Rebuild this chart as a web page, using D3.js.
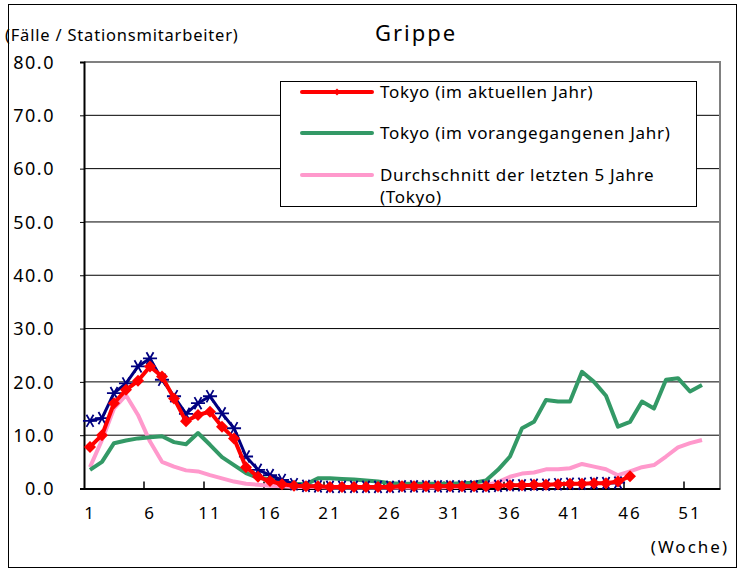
<!DOCTYPE html>
<html><head><meta charset="utf-8">
<script src="https://cdn.jsdelivr.net/npm/d3@7"></script>
<style>
body{margin:0;background:#fff;}
svg text{font-family:"Noto Sans",sans-serif;fill:#000;}
</style></head>
<body><svg id="c" width="739" height="571"></svg>
<script>
const weeks = d3.range(1, 54);
const tickWeeks = [1, 6, 11, 16, 21, 26, 31, 36, 41, 46, 51];
const yTicks = [0, 10, 20, 30, 40, 50, 60, 70, 80];
const seriesNames = ["Tokyo (im aktuellen Jahr)", "Tokyo (im vorangegangenen Jahr)", "Durchschnitt der letzten 5 Jahre", "(Tokyo)"];

const current = [7.8,10.0,16.0,18.5,20.2,22.9,21.0,16.9,12.6,13.8,14.4,11.6,9.4,4.0,2.2,1.4,0.8,0.5,0.4,0.4,0.3,0.3,0.3,0.3,0.3,0.3,0.4,0.4,0.4,0.4,0.4,0.4,0.4,0.4,0.5,0.6,0.6,0.7,0.7,0.8,0.9,0.9,1.0,1.0,1.3,2.3];
const sentinel = [12.7,13.2,17.9,19.7,22.9,24.4,20.4,17.3,14.0,16.0,17.3,14.1,11.3,6.0,3.5,2.5,1.6,0.8,0.5,0.4,0.3,0.3,0.3,0.3,0.3,0.3,0.4,0.4,0.4,0.4,0.4,0.4,0.4,0.4,0.5,0.6,0.6,0.7,0.7,0.8,0.9,0.9,1.0,1.0,1.1];
const previous = [3.5,5.0,8.5,9.0,9.4,9.6,9.8,8.7,8.3,10.4,8.2,5.9,4.4,2.9,2.0,1.8,1.3,0.9,0.8,1.9,1.9,1.8,1.7,1.5,1.3,1.0,0.9,0.9,0.9,0.9,0.9,1.0,1.1,1.5,3.5,6.0,11.3,12.5,16.6,16.3,16.3,21.9,20.0,17.4,11.6,12.5,16.3,15.0,20.4,20.7,18.2,19.4];
const avg5 = [4.0,9.1,15.0,17.5,13.8,8.8,5.0,4.1,3.4,3.2,2.5,1.9,1.3,0.9,0.7,0.5,0.4,0.3,0.3,0.3,0.2,0.2,0.2,0.2,0.2,0.2,0.2,0.2,0.2,0.2,0.3,0.3,0.4,0.6,1.2,2.2,2.8,3.0,3.6,3.6,3.8,4.6,4.1,3.6,2.5,3.2,4.0,4.4,6.0,7.7,8.5,9.1];

const svg = d3.select("#c");
const L = 84, R = 720, T = 62, B = 488.5;

svg.append("rect").attr("x", 8.5).attr("y", 4.5).attr("width", 728).attr("height", 563)
  .attr("fill", "#fff").attr("stroke", "#000").attr("stroke-width", 1);

const x = d3.scaleBand().domain(weeks).range([L, R]).padding(0);
const y = d3.scaleLinear().domain([0, 80]).range([B, T]);
const cx = w => x(w) + x.bandwidth() / 2;

svg.append("g").selectAll("line").data(yTicks.filter(v => v > 0 && v < 80)).join("line")
  .attr("x1", L).attr("x2", R).attr("y1", d => y(d)).attr("y2", d => y(d))
  .attr("stroke", "#000").attr("stroke-width", 1);

svg.append("path").attr("d", `M${L},${T}H${R}V${B}`).attr("fill", "none")
  .attr("stroke", "#808080").attr("stroke-width", 2);

const yAxis = svg.append("g").attr("transform", `translate(${L},0)`)
  .call(d3.axisLeft(y).tickValues(yTicks).tickFormat(d3.format(".1f")).tickSize(4).tickPadding(25));
yAxis.select(".domain").attr("stroke", "#000").attr("stroke-width", 2);
yAxis.selectAll("text").attr("font-size", 18).attr("letter-spacing", 1.5).attr("dy", "0.35em");

const xAxis = svg.append("g").attr("transform", `translate(0,${B})`)
  .call(d3.axisBottom(x).tickValues(tickWeeks).tickSize(0).tickPadding(16));
xAxis.select(".domain").attr("stroke", "#000").attr("stroke-width", 2);
xAxis.selectAll("text").attr("font-size", 17).attr("letter-spacing", 2).attr("dy", "0.85em");
svg.append("g").selectAll("line").data(tickWeeks.slice(1)).join("line")
  .attr("x1", d => x(d)).attr("x2", d => x(d)).attr("y1", B).attr("y2", B - 7)
  .attr("stroke", "#000").attr("stroke-width", 1.5);

const line = d3.line().x((d, i) => cx(weeks[i])).y(d => y(d));
const g = svg.append("g");
g.append("path").datum(avg5).attr("d", line).attr("fill", "none").attr("stroke", "#ff99cc").attr("stroke-width", 4).attr("stroke-linejoin", "round");
g.append("path").datum(previous).attr("d", line).attr("fill", "none").attr("stroke", "#339966").attr("stroke-width", 4).attr("stroke-linejoin", "round");
g.append("path").datum(sentinel).attr("d", line).attr("fill", "none").attr("stroke", "#000080").attr("stroke-width", 3);
const ast = d3.symbol().type(d3.symbolAsterisk).size(140);
g.append("g").selectAll("path").data(sentinel).join("path")
  .attr("transform", (d, i) => `translate(${cx(weeks[i])},${y(d)}) rotate(30)`)
  .attr("d", ast).attr("fill", "none").attr("stroke", "#000080").attr("stroke-width", 1.8);
g.append("path").datum(current).attr("d", line).attr("fill", "none").attr("stroke", "#ff0000").attr("stroke-width", 4).attr("stroke-linejoin", "round");
const sq = d3.symbol().type(d3.symbolSquare).size(72);
g.append("g").selectAll("path").data(current).join("path")
  .attr("transform", (d, i) => `translate(${cx(weeks[i])},${y(d)}) rotate(45)`)
  .attr("d", sq).attr("fill", "#ff0000");

const lg = svg.append("g");
lg.append("rect").attr("x", 280.5).attr("y", 81.5).attr("width", 416).attr("height", 125)
  .attr("fill", "#fff").attr("stroke", "#000").attr("stroke-width", 1);
const legRows = [
  {y: 92, color: "#ff0000", marker: true, text: [seriesNames[0]]},
  {y: 133, color: "#339966", marker: false, text: [seriesNames[1]]},
  {y: 175, color: "#ff99cc", marker: false, text: [seriesNames[2], seriesNames[3]]}
];
legRows.forEach(r => {
  lg.append("line").attr("x1", 302).attr("x2", 372).attr("y1", r.y).attr("y2", r.y)
    .attr("stroke", r.color).attr("stroke-width", 4).attr("stroke-linecap", "round");
  if (r.marker) lg.append("path").attr("transform", `translate(337,${r.y}) rotate(45)`)
    .attr("d", d3.symbol().type(d3.symbolSquare).size(24)).attr("fill", r.color);
  r.text.forEach((t, k) => lg.append("text").attr("x", 380).attr("y", r.y + k * 22).attr("dy", "0.35em")
    .attr("font-size", 17).attr("letter-spacing", 0.7).text(t));
});

svg.append("text").attr("x", 416).attr("y", 33).attr("dy", "0.35em").attr("text-anchor", "middle")
  .attr("font-size", 22).attr("letter-spacing", 2).text("Grippe");
svg.append("text").attr("x", 5).attr("y", 35).attr("dy", "0.35em").attr("font-size", 16.5)
  .attr("letter-spacing", 0.8).text("(Fälle / Stationsmitarbeiter)");
svg.append("text").attr("x", 729).attr("y", 547).attr("dy", "0.35em").attr("text-anchor", "end")
  .attr("font-size", 17).attr("letter-spacing", 2).text("(Woche)");
</script></body></html>
